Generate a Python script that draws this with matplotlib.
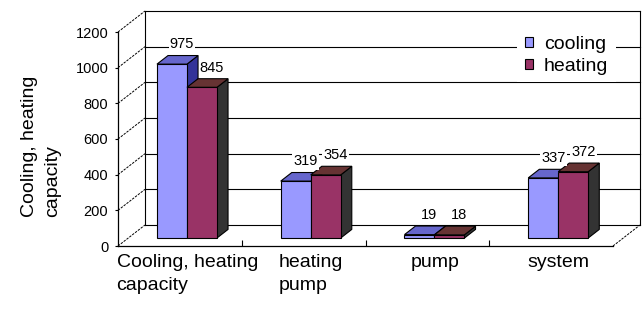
import matplotlib
matplotlib.use('Agg')
import matplotlib.pyplot as plt
from matplotlib.patches import Polygon, Patch

# data
categories = ['Cooling, heating\ncapacity', 'heating\npump', 'pump', 'system']
cooling = [975, 319, 19, 337]
heating = [845, 354, 18, 372]
series_names = ['cooling', 'heating']
y_ticks = [0, 200, 400, 600, 800, 1000, 1200]

plt.rcParams['font.family'] = ['Liberation Sans', 'DejaVu Sans']

# colours (front, top, side) per series
cool_cols = ('#9999FF', '#6666CC', '#333399')
heat_cols = ('#993366', '#663333', '#333333')

W, H = 642, 309
fig = plt.figure(figsize=(W / 100, H / 100), dpi=100, facecolor='white')

# front plane of the pseudo 3d box, pixels
X0, X1, Y0, Y1 = 118, 613, 246, 32
ax = fig.add_axes([X0 / W, 1 - Y0 / H, (X1 - X0) / W, (Y0 - Y1) / H])
ax.set_xlim(0, len(categories))
ax.set_ylim(0, 1200)
ax.patch.set_visible(False)

# depth shift of the back wall, in data units
DX = 27 / ((X1 - X0) / len(categories))
DY = 21 / ((Y0 - Y1) / 1200)


def proj(x, y, d):
    return (x + d * DX, y + d * DY)


line_kw = dict(color='black', lw=0.8, clip_on=False, zorder=1)
n = len(categories)

# back wall grid + frame
for v in y_ticks:
    ax.plot([DX, n + DX], [v + DY, v + DY], **line_kw)
    # side wall diagonals
    ax.plot([0, DX], [v, v + DY], color='black', lw=0.7, ls=(0, (2.5, 1.2)),
            clip_on=False, zorder=1)
ax.plot([DX, DX], [DY, y_ticks[-1] + DY], **line_kw)
ax.plot([n + DX, n + DX], [DY, y_ticks[-1] + DY], **line_kw)
ax.plot([n, n + DX], [0, DY], color='black', lw=0.7, ls=(0, (2.5, 1.2)),
        clip_on=False, zorder=1)

# bars
bw = 0.2424
f0, f1 = 0.38, 0.79
for i in range(n):
    for k, (v, cols) in enumerate([(cooling[i], cool_cols), (heating[i], heat_cols)]):
        x0 = i + 0.232 + k * bw
        x1 = x0 + bw
        side = [proj(x1, 0, f0), proj(x1, v, f0), proj(x1, v, f1), proj(x1, 0, f1)]
        top = [proj(x0, v, f0), proj(x1, v, f0), proj(x1, v, f1), proj(x0, v, f1)]
        front = [proj(x0, 0, f0), proj(x1, 0, f0), proj(x1, v, f0), proj(x0, v, f0)]
        for pts, fc in zip([side, top, front], [cols[2], cols[1], cols[0]]):
            ax.add_patch(Polygon(pts, closed=True, fc=fc, ec='black', lw=0.8,
                                 joinstyle='miter', clip_on=False, zorder=3))
        ax.annotate(str(v), xy=(x0 + bw / 2 + 0.75 * DX, v + f1 * DY),
                    xytext=(0, 3), textcoords='offset points',
                    ha='center', va='bottom', fontsize=10.5,
                    bbox=dict(fc='white', ec='none', pad=0.8), zorder=6,
                    annotation_clip=False)

# axes
ax.set_yticks(y_ticks)
ax.set_xticks([1, 2, 3])
ax.tick_params(axis='y', labelsize=10.5, length=2.5, width=0.8, pad=4.5, direction='out')
ax.tick_params(axis='x', direction='in', length=4, width=0.8, labelbottom=False)
for s in ['top', 'right']:
    ax.spines[s].set_visible(False)
for s in ['left', 'bottom']:
    ax.spines[s].set_linewidth(0.9)

# category labels
for i, lab in enumerate(categories):
    ax.annotate(lab, xy=(i + 0.56, 0), xytext=(0, -6), textcoords='offset points',
                ha='center', va='top', multialignment='left', fontsize=14,
                linespacing=1.45, annotation_clip=False)

fig.text(41 / W, 1 - 217 / H, 'Cooling, heating\ncapacity', rotation=90,
         ha='center', va='bottom', multialignment='left', fontsize=14, linespacing=1.45)

handles = [Patch(fc=cool_cols[0], ec='black', lw=0.8),
           Patch(fc=heat_cols[0], ec='black', lw=0.8)]
leg = ax.legend(handles, series_names, loc='upper left',
                bbox_to_anchor=(517 / W, 1 - 28 / H), bbox_transform=fig.transFigure,
                fontsize=14, frameon=True, fancybox=False, edgecolor='none',
                facecolor='white', framealpha=1, borderpad=0.4, borderaxespad=0,
                handlelength=0.42, handleheight=0.42, handletextpad=0.55,
                labelspacing=0.25)

fig.savefig('out.png', dpi=100, facecolor='white')
